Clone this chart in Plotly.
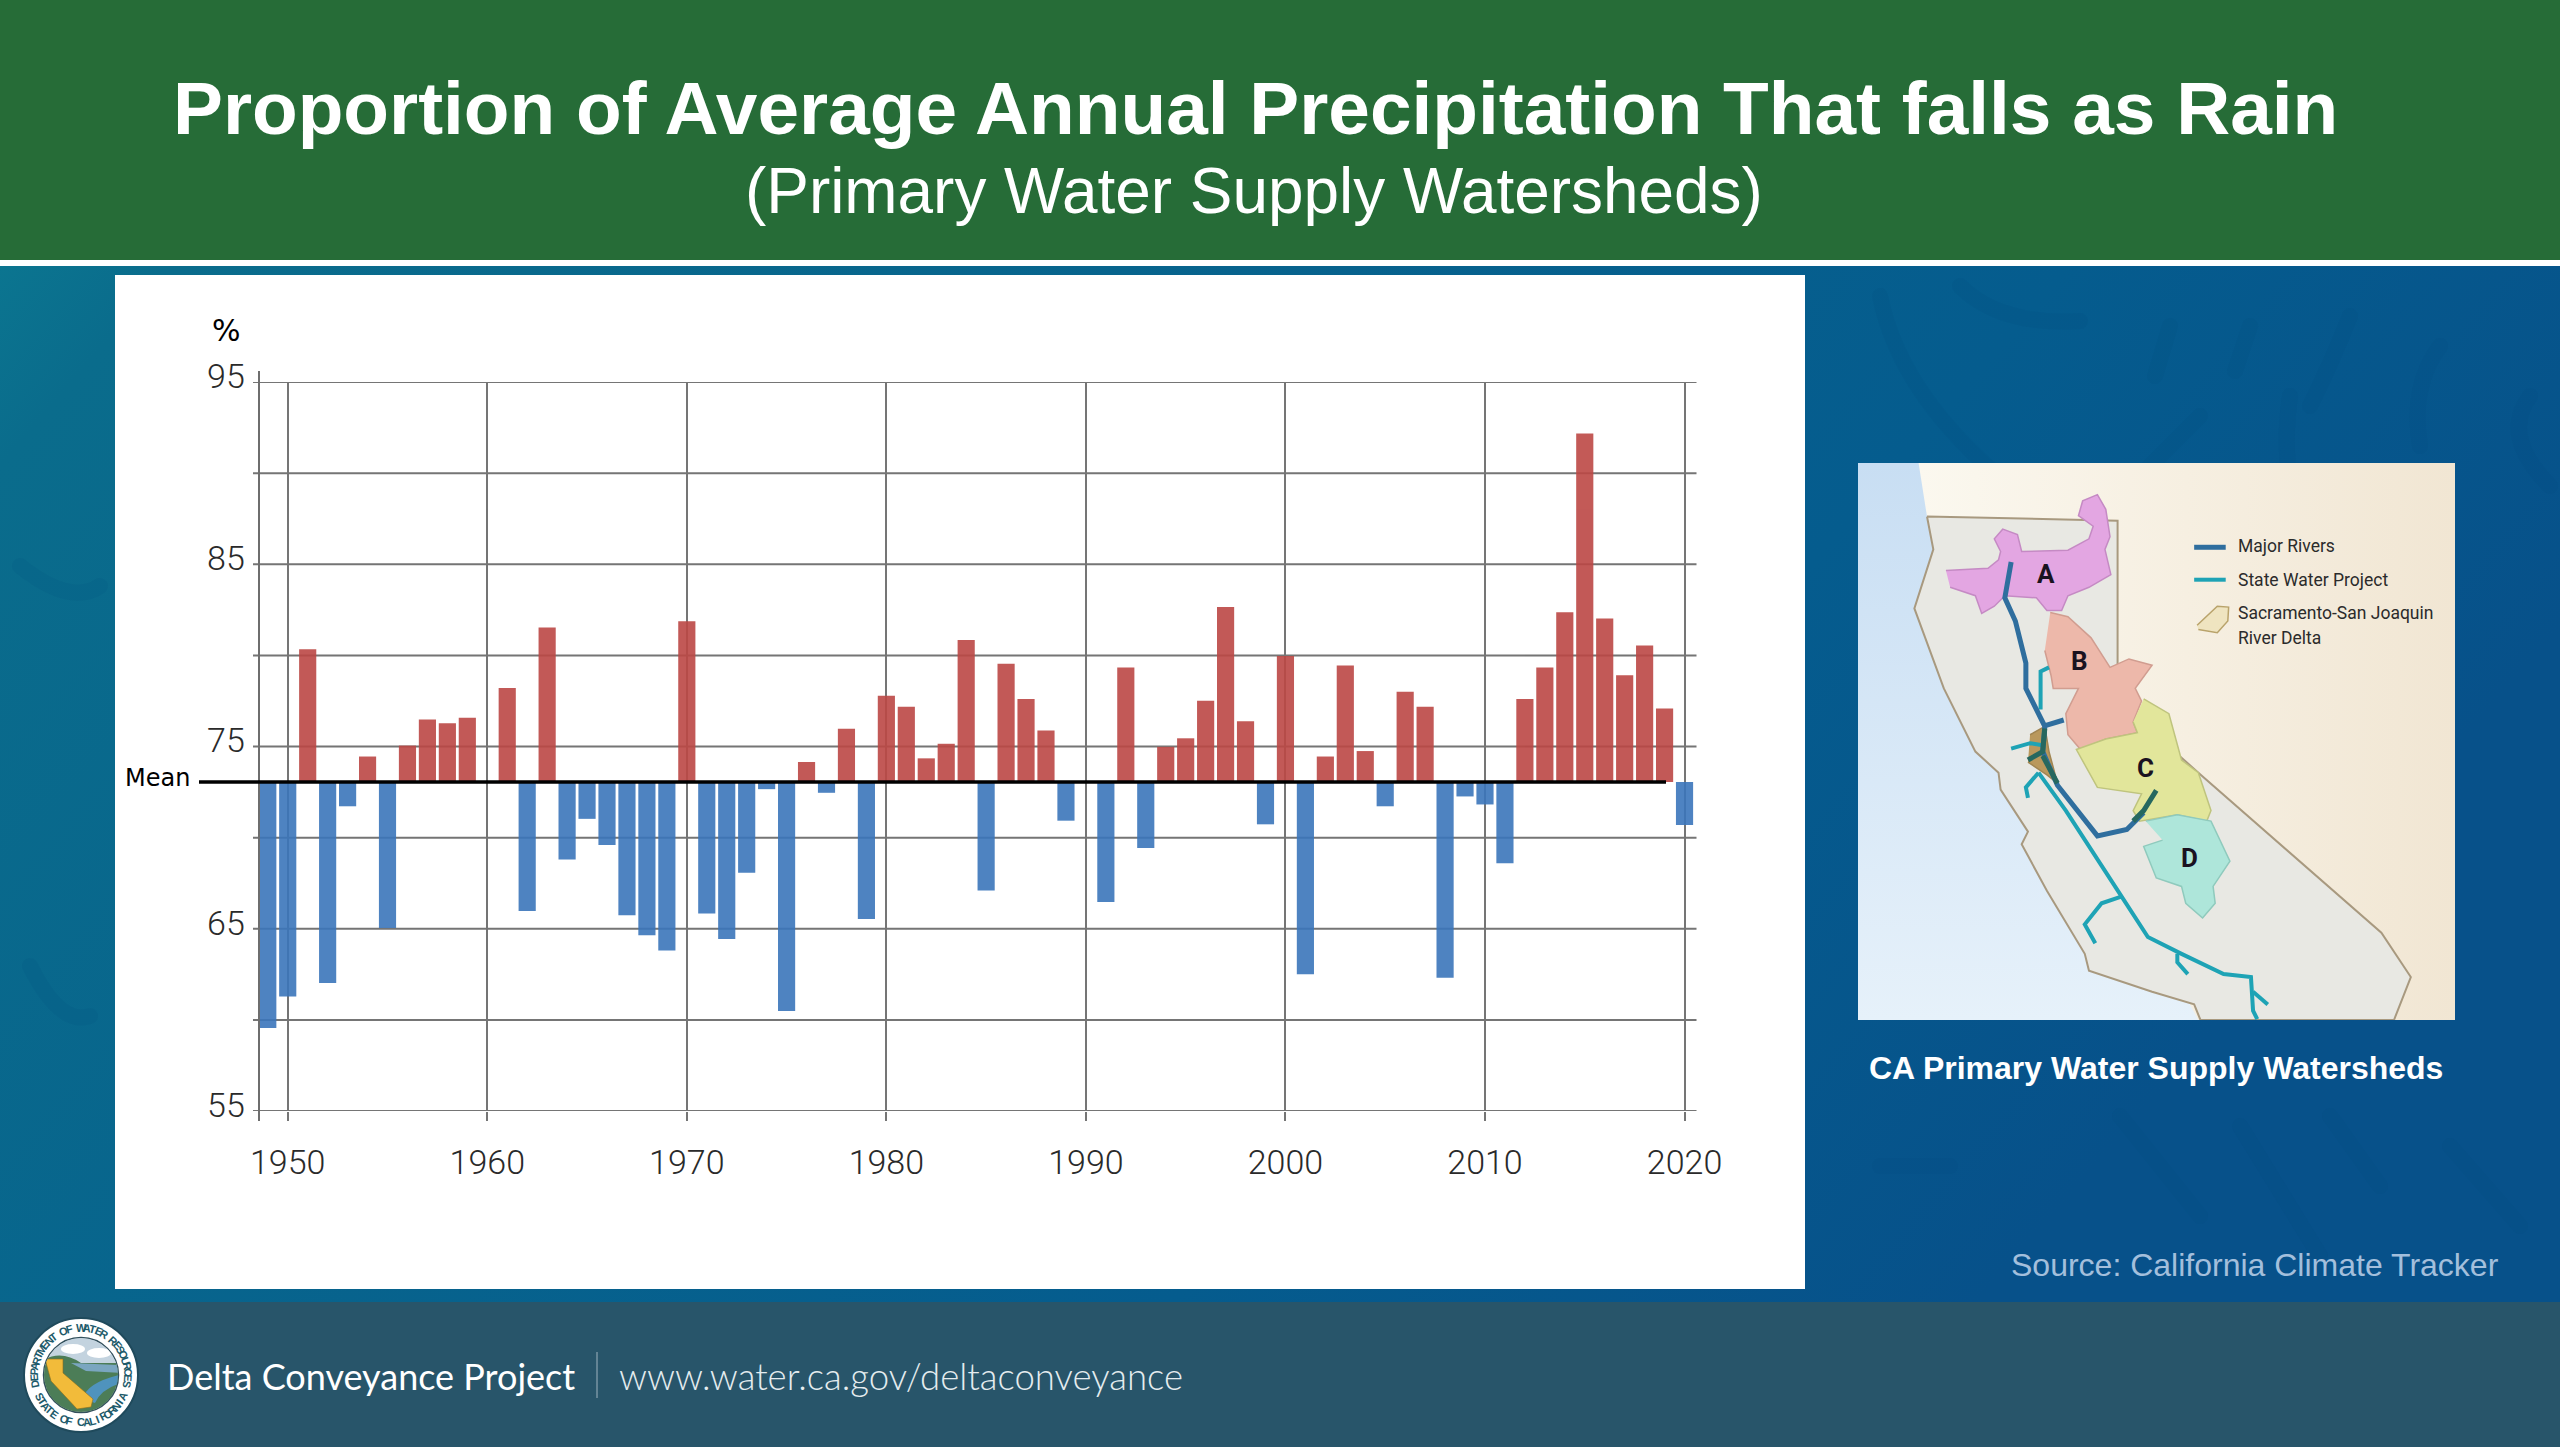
import base64
import numpy as np
import plotly.graph_objects as go

W = 2560
H = 1447

years = list(range(1949, 2021))
rain_pct = [59.55, 61.28, 80.34, 62.02, 71.72, 74.45, 65.04, 75.05, 76.48, 76.28, 76.58,
            None, 78.21, 65.97, 81.53, 68.8, 71.03, 69.6, 65.74, 64.64, 63.81,
            81.87, 65.84, 64.44, 68.07, 72.66, 60.49, 74.15, 72.46, 75.98, 65.54,
            77.78, 77.18, 74.35, 75.15, 80.84, 67.1, 79.54, 77.61, 75.88, 70.93,
            None, 66.47, 79.34, 69.43, 74.98, 75.45, 77.51, 82.66, 76.38, 70.73,
            79.97, 62.51, 74.45, 79.44, 74.75, 71.72, 78.01, 77.18, 62.31, 72.26,
            71.82, 68.6, 77.61, 79.34, 82.37, 92.17, 82.03, 78.91, 80.54, 77.08,
            70.69]
mean_pct = 73.05
x_ticks = [1950, 1960, 1970, 1980, 1990, 2000, 2010, 2020]
y_ticks = [55, 60, 65, 70, 75, 80, 85, 90, 95]
y_labels = ["55", "", "65", "", "75", "", "85", "", "95"]

# map outlines, in the map panel's own coordinates
cream_x = [235, 1510, 1510, 900, 255]
cream_y = [55, 55, 1377, 1377, 182]
ca_x = [255, 708, 708, 900, 1335, 1405, 1365, 905, 890, 790, 640, 630, 540, 480, 495, 430, 425, 370, 295, 225, 270, 255]
ca_y = [182, 192, 620, 790, 1170, 1275, 1377, 1377, 1340, 1310, 1260, 1220, 1070, 960, 930, 830, 790, 740, 590, 400, 260, 182]
shed_a_x = [300, 400, 425, 430, 415, 435, 470, 480, 590, 640, 650, 615, 625, 660, 680, 690, 678, 692, 640, 590, 575, 540, 515, 440, 415, 385, 370, 310]
shed_a_y = [310, 305, 285, 265, 235, 212, 225, 265, 262, 235, 205, 180, 145, 130, 165, 230, 260, 320, 350, 370, 405, 405, 375, 370, 395, 412, 370, 350]
shed_b_x = [548, 590, 645, 690, 735, 790, 750, 765, 745, 755, 680, 620, 590, 585, 615, 555, 550, 535]
shed_b_y = [410, 420, 470, 540, 520, 535, 590, 620, 670, 695, 710, 735, 700, 650, 590, 590, 560, 500]
shed_c_x = [770, 830, 860, 900, 930, 920, 850, 760, 745, 765, 660, 630, 610, 680, 755, 745]
shed_c_y = [615, 650, 760, 790, 880, 905, 890, 905, 880, 840, 825, 770, 735, 710, 695, 670]
shed_d_x = [775, 850, 930, 975, 935, 940, 910, 870, 860, 800, 770, 815]
shed_d_y = [905, 890, 905, 1000, 1060, 1100, 1135, 1100, 1060, 1040, 965, 950]
delta_x = [500, 535, 545, 565, 540, 495]
delta_y = [700, 680, 740, 815, 795, 765]
rivers = [([455, 445, 440, 465, 490, 490, 535, 530, 565, 660, 730, 770], [290, 340, 375, 430, 530, 590, 680, 740, 820, 940, 925, 885]),
          ([530, 580], [680, 665]),
          ([890, 965], [255, 255])]
rivers_dark = [([535, 530, 495], [685, 740, 760]),
               ([530, 565], [750, 815]),
               ([800, 770, 745], [832, 880, 905])]
swp = [([545, 525, 525], [540, 550, 640]),
       ([520, 585, 715, 780, 860, 960, 1025, 1030, 1040], [790, 880, 1080, 1180, 1220, 1268, 1275, 1355, 1375]),
       ([520, 490, 495], [790, 825, 850]),
       ([715, 670, 630, 655], [1085, 1100, 1150, 1195]),
       ([850, 850, 875], [1220, 1240, 1268]),
       ([1030, 1065], [1310, 1340]),
       ([455, 500, 530], [733, 720, 725]),
       ([890, 965], [332, 332])]
icon_x = [897, 945, 972, 970, 945, 900]
icon_y = [440, 395, 397, 430, 458, 450]
map_labels = ["A", "B", "C", "D"]
map_label_x = [538, 618, 775, 880]
map_label_y = [318, 525, 780, 992]
legend_labels = ["Major Rivers", "State Water Project", "Sacramento-San Joaquin", "River Delta"]
legend_label_y = [253, 332, 412, 470]


def px(x):
    return x / W


def py(y):
    return 1 - y / H


def svg_uri(svg):
    return "data:image/svg+xml;base64," + base64.b64encode(svg.encode()).decode()


bg_svg = f"""<svg xmlns="http://www.w3.org/2000/svg" width="{W}" height="1181" viewBox="0 0 {W} 1181">
<defs><linearGradient id="g" x1="0" y1="0" x2="1" y2="0.35">
<stop offset="0" stop-color="#0b7590"/><stop offset="0.06" stop-color="#0a6c8c"/>
<stop offset="0.72" stop-color="#055c8e"/><stop offset="1" stop-color="#07518a"/></linearGradient></defs>
<rect width="{W}" height="1036" fill="url(#g)"/>
<g fill="none" stroke="#034a7a" stroke-opacity="0.12" stroke-width="16" stroke-linecap="round">
<path d="M1960 20 Q2000 60 2080 55"/><path d="M1880 30 Q1900 130 2010 220"/><path d="M2170 60 L2155 110"/>
<path d="M2250 60 L2235 105"/><path d="M2350 50 Q2330 100 2310 140"/><path d="M2440 80 Q2410 120 2420 180"/>
<path d="M2200 150 L2130 220"/><path d="M2290 130 Q2280 200 2300 260"/><path d="M2530 130 Q2500 170 2550 220"/>
<path d="M2120 850 L2200 950"/><path d="M2240 860 L2320 990"/><path d="M2330 850 L2380 920"/><path d="M1880 900 L1950 900"/>
<path d="M2450 880 L2520 960"/><path d="M20 300 Q70 340 100 320"/><path d="M30 700 Q60 760 90 750"/></g>
<rect y="1036" width="{W}" height="145" fill="#28556a"/></svg>"""

map_svg = """<svg xmlns="http://www.w3.org/2000/svg" width="597" height="557" viewBox="0 0 597 557">
<defs><linearGradient id="s" x1="0" y1="0" x2="0" y2="1">
<stop offset="0" stop-color="#c8def3"/><stop offset="1" stop-color="#e6f1fa"/></linearGradient></defs>
<rect width="597" height="557" fill="url(#s)"/></svg>"""

seal_svg = """<svg xmlns="http://www.w3.org/2000/svg" width="240" height="240" viewBox="-60 -60 120 120">
<defs><clipPath id="c"><circle r="37"/></clipPath></defs>
<circle r="57" fill="#ffffff" stroke="#1f4a5c" stroke-width="2"/>
<circle r="37.5" fill="#e9eef2" stroke="#33505c" stroke-width="1.5"/>
<g clip-path="url(#c)"><rect x="-40" y="-40" width="80" height="30" fill="#c3d3df"/>
<ellipse cx="-8" cy="-26" rx="12" ry="5" fill="#ffffff"/><ellipse cx="18" cy="-22" rx="12" ry="5" fill="#ffffff"/>
<path d="M-40 -14 Q-20 -26 0 -12 L40 -12 L40 40 L-40 40 Z" fill="#4c7d57"/>
<path d="M-10 -12 L40 -10 L40 -2 L5 -4 Z" fill="#7aa6c0"/>
<path d="M2 24 Q5 8 38 0 L40 8 Q20 14 14 28 Z" fill="#4f93bd"/>
<path d="M-36 -16 L-18 -16 L-18 -2 L12 24 L10 32 L-4 34 L-30 6 Z" fill="#f2bb3a" stroke="#8a6d1f" stroke-width="0.6"/>
</g></svg>"""

# chart bars, split around the mean
red_x = [y for y, v in zip(years, rain_pct) if v is not None and v >= mean_pct]
red_y = [v - mean_pct for v in rain_pct if v is not None and v >= mean_pct]
blue_x = [y for y, v in zip(years, rain_pct) if v is not None and v < mean_pct]
blue_y = [v - mean_pct for v in rain_pct if v is not None and v < mean_pct]

fig = go.Figure()
fig.add_trace(go.Bar(x=red_x, y=red_y, base=mean_pct, width=0.86, marker=dict(color="#BC4845", line_width=0),
                     opacity=0.9, hoverinfo="skip"))
fig.add_trace(go.Bar(x=blue_x, y=blue_y, base=mean_pct, width=0.86, marker=dict(color="#3B76BB", line_width=0),
                     opacity=0.9, hoverinfo="skip"))


def map_fill(xs, ys, color, line, width=1.5):
    fig.add_trace(go.Scatter(x=xs, y=ys, mode="lines", fill="toself", fillcolor=color,
                             line=dict(color=line, width=width), xaxis="x2", yaxis="y2", hoverinfo="skip"))


def map_line(xs, ys, color, width):
    fig.add_trace(go.Scatter(x=xs, y=ys, mode="lines", line=dict(color=color, width=width),
                             xaxis="x2", yaxis="y2", hoverinfo="skip"))


fig.add_trace(go.Scatter(x=cream_x, y=cream_y, mode="lines", fill="toself", line_width=0,
                         fillgradient=dict(type="horizontal", colorscale=[[0, "#fbf8ef"], [1, "#f1e6d3"]]),
                         xaxis="x2", yaxis="y2", hoverinfo="skip"))
map_fill(ca_x, ca_y, "#e8e8e3", "#a8997f", 2)
map_fill(shed_a_x, shed_a_y, "#e3a6e2", "#c58ac4")
map_fill(shed_b_x, shed_b_y, "#edb8aa", "#d19d90")
map_fill(shed_c_x, shed_c_y, "#e2e69b", "#bfc47e")
map_fill(shed_d_x, shed_d_y, "#aee6da", "#8fcabd")
map_fill(delta_x, delta_y, "#b9985c", "#a08552")
for rx, ry in swp:
    map_line(rx, ry, "#1ea3b5", 4)
for rx, ry in rivers:
    map_line(rx, ry, "#2f6e9e", 5)
for rx, ry in rivers_dark:
    map_line(rx, ry, "#26685f", 5)
map_fill(icon_x, icon_y, "#efe4c0", "#b9a36b", 1.5)

notes = [
    dict(x=px(1255), y=py(108), text="<b>Proportion of Average Annual Precipitation That falls as Rain</b>",
         font=dict(family="Liberation Sans", size=74.8, color="#ffffff")),
    dict(x=px(1254), y=py(191), text="(Primary Water Supply Watersheds)",
         font=dict(family="Liberation Sans", size=63.9, color="#ffffff")),
    dict(x=px(226), y=py(330), text="%", font=dict(family="DejaVu Sans", size=30, color="#000000")),
    dict(x=px(192), y=py(778), text="Mean", xanchor="right", font=dict(family="DejaVu Sans", size=24, color="#000000")),
    dict(x=px(2156), y=py(1068), text="<b>CA Primary Water Supply Watersheds</b>",
         font=dict(family="Liberation Sans", size=32, color="#ffffff")),
    dict(x=px(2501), y=py(1265), text="Source: California Climate Tracker", xanchor="right",
         font=dict(family="Liberation Sans", size=32, color="#a3bfdc")),
    dict(x=px(165), y=py(1376), text="Delta Conveyance Project", xanchor="left",
         font=dict(family="Lato", size=36, color="#ffffff")),
    dict(x=px(617), y=py(1376), text="www.water.ca.gov/deltaconveyance", xanchor="left",
         font=dict(family="Lato", size=36.6, weight=300, color="#e4ecef")),
]
for a in notes:
    a.setdefault("xanchor", "center")
    a.update(xref="paper", yref="paper", yanchor="middle", showarrow=False)

for lab, lx, ly in zip(map_labels, map_label_x, map_label_y):
    notes.append(dict(x=lx, y=ly, xref="x2", yref="y2", text=f"<b>{lab}</b>", showarrow=False,
                      font=dict(family="Roboto", size=26, color="#1a1220")))
for lab, ly in zip(legend_labels, legend_label_y):
    notes.append(dict(x=990, y=ly, xref="x2", yref="y2", text=lab, showarrow=False, xanchor="left",
                      font=dict(family="Roboto", size=17.5, color="#2b2b2b")))

# lettering round the seal
seal_cx, seal_cy, seal_r = 81, 1375, 47
for word, start, end, flip in [("DEPARTMENT OF WATER RESOURCES", -101, 101, False),
                               ("STATE OF CALIFORNIA", 243, 117, True)]:
    for ch, ang in zip(word, np.linspace(start, end, len(word))):
        if ch == " ":
            continue
        t = np.radians(ang)
        notes.append(dict(x=px(seal_cx + seal_r * np.sin(t)), y=py(seal_cy - seal_r * np.cos(t)),
                          xref="paper", yref="paper", xanchor="center", yanchor="middle",
                          text=f"<b>{ch}</b>", showarrow=False,
                          textangle=float(ang - 180 if flip else ang),
                          font=dict(family="Liberation Sans", size=11, color="#1d5a6a")))

grid = "#757575"
shapes = [
    dict(type="rect", xref="paper", yref="paper", x0=0, x1=1, y0=py(260), y1=1, fillcolor="#266c37", line_width=0, layer="below"),
    dict(type="rect", xref="paper", yref="paper", x0=0, x1=1, y0=py(266), y1=py(260), fillcolor="#ffffff", line_width=0, layer="below"),
    dict(type="rect", xref="paper", yref="paper", x0=px(115), x1=px(1805), y0=py(1289), y1=py(275), fillcolor="#ffffff", line_width=0, layer="below"),
    # y axis line runs a little past the grid
    dict(type="line", xref="paper", yref="paper", x0=px(259), x1=px(259), y0=py(1121), y1=py(371), line=dict(color="#6e6e6e", width=2)),
    # mean line starts out beside the labels and stops short of the last bar
    dict(type="line", xref="paper", yref="y", x0=px(199), x1=px(1666), y0=mean_pct, y1=mean_pct, line=dict(color="#000000", width=3.5)),
    dict(type="line", xref="paper", yref="paper", x0=px(597), x1=px(597), y0=py(1398), y1=py(1352), line=dict(color="#9fb4bf", width=1)),
]
# horizontal grid with its small tick stubs, one line per y tick
for v in y_ticks:
    shapes.append(dict(type="line", xref="paper", yref="y", x0=px(253), x1=px(1696.5), y0=v, y1=v,
                       line=dict(color=grid, width=2), layer="below"))

images = [
    dict(source=svg_uri(bg_svg), xref="paper", yref="paper", x=0, y=py(266), sizex=1, sizey=1181 / H,
         sizing="stretch", xanchor="left", yanchor="top", layer="below"),
    dict(source=svg_uri(map_svg), xref="paper", yref="paper", x=px(1858), y=py(463), sizex=597 / W, sizey=557 / H,
         sizing="stretch", xanchor="left", yanchor="top", layer="below"),
    dict(source=svg_uri(seal_svg), xref="paper", yref="paper", x=px(21), y=py(1315), sizex=120 / W, sizey=120 / H,
         sizing="stretch", xanchor="left", yanchor="top", layer="below"),
]

tick_font = dict(family="Roboto", size=34, weight=300, color="#2a2a2a")
fig.update_layout(
    width=W, height=H, margin=dict(l=0, r=0, t=0, b=0, pad=0), showlegend=False, barmode="overlay",
    paper_bgcolor="rgba(0,0,0,0)", plot_bgcolor="rgba(0,0,0,0)",
    annotations=notes, shapes=shapes, images=images,
    xaxis=dict(domain=[px(258.8), px(1696.5)], range=[1948.55, 2020.6], tickvals=x_ticks, automargin=False,
               showgrid=True, gridcolor=grid, gridwidth=2, ticks="outside", ticklen=9, tickcolor=grid, tickwidth=2,
               showline=False, zeroline=False, layer="below traces", ticklabelstandoff=12, tickfont=tick_font),
    yaxis=dict(domain=[py(1111), py(382)], range=[55, 95], tickvals=y_ticks, ticktext=y_labels, automargin=False,
               showgrid=False, ticks="", showline=False, zeroline=False,
               ticklabelshift=-6, ticklabelstandoff=13, tickfont=tick_font),
    xaxis2=dict(domain=[px(1858), px(2455)], range=[91, 1510], visible=False, anchor="y2", automargin=False),
    yaxis2=dict(domain=[py(1020), py(463)], range=[1377, 55], visible=False, anchor="x2", automargin=False),
)

# the page's default body margin would shift the whole slide
fig.write_html("out.html", config={"displayModeBar": False}, post_script="document.body.style.margin='0';")
